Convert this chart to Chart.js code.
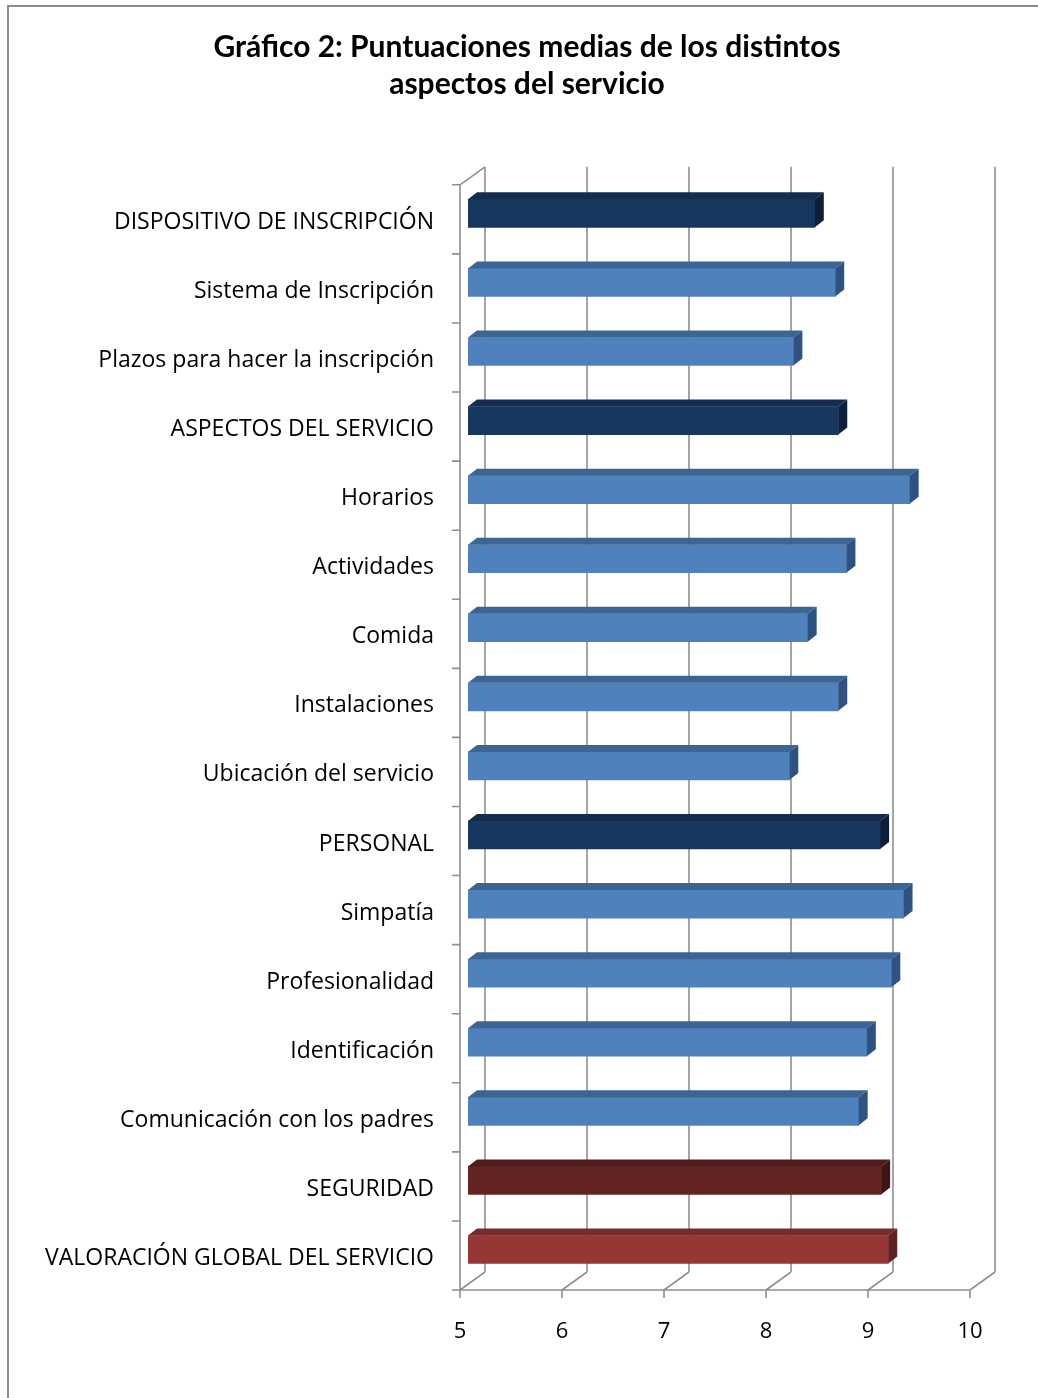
<!DOCTYPE html>
<html>
<head>
<meta charset="utf-8">
<script src="https://cdn.jsdelivr.net/npm/chart.js@4/dist/chart.umd.min.js"></script>
<style>
  html, body { margin: 0; padding: 0; background: #fff; }
  #wrap { width: 1038px; height: 1398px; }
</style>
</head>
<body>
<div id="wrap"><canvas id="grafico" width="1038" height="1398"></canvas></div>
<script>
// Datos
const categorias = [
  'DISPOSITIVO DE INSCRIPCIÓN',
  'Sistema de Inscripción',
  'Plazos para hacer la inscripción',
  'ASPECTOS DEL SERVICIO',
  'Horarios',
  'Actividades',
  'Comida',
  'Instalaciones',
  'Ubicación del servicio',
  'PERSONAL',
  'Simpatía',
  'Profesionalidad',
  'Identificación',
  'Comunicación con los padres',
  'SEGURIDAD',
  'VALORACIÓN GLOBAL DEL SERVICIO'
];
const puntuaciones = [8.40, 8.60, 8.19, 8.63, 9.33, 8.71, 8.33, 8.63, 8.15, 9.04, 9.27, 9.15, 8.91, 8.83, 9.05, 9.12];
const ticksEje = [5, 6, 7, 8, 9, 10];

// colores: cara frontal, cara superior, lateral
const paleta = {
  bloque: ['#17375E', '#122d4d', '#0d2038'],
  item:   ['#4F81BD', '#3d6594', '#2f5281'],
  seg:    ['#632523', '#4e1c1b', '#3c1514'],
  global: ['#953735', '#762c2a', '#5c2120']
};
const tipoBarra = ['bloque','item','item','bloque','item','item','item','item','item',
                   'bloque','item','item','item','item','seg','global'];

// desplazamientos de la perspectiva
const PROF = { dx: 25, dy: -18 };     // de plano frontal a pared del fondo
const FRENTE = { dx: -8, dy: 6 };     // plano de las barras -> plano frontal
const BARRA = { dx: 9, dy: -7 };      // profundidad de cada barra
const gris = '#8f8f8f';

const marco = {
  id: 'marco',
  beforeDraw(chart) {
    const c = chart.ctx;
    c.save();
    c.fillStyle = '#fff';
    c.fillRect(0, 0, chart.width, chart.height);
    c.strokeStyle = '#8c8c8c';
    c.lineWidth = 2;
    c.beginPath();
    c.moveTo(8, chart.height);
    c.lineTo(8, 6);
    c.lineTo(chart.width, 6);
    c.stroke();
    c.restore();
  },
  // el titulo va centrado algo a la derecha, como en el original
  afterLayout(chart) {
    const t = chart.titleBlock;
    if (t) { t.left += 76; }
  }
};

const paredes = {
  id: 'paredes',
  beforeDatasetsDraw(chart) {
    const c = chart.ctx, a = chart.chartArea, xs = chart.scales.x;
    const fTop = a.top + FRENTE.dy, fBot = a.bottom + FRENTE.dy;
    const bTop = fTop + PROF.dy, bBot = fBot + PROF.dy;
    c.save();
    c.strokeStyle = gris;
    c.lineWidth = 1.6;
    c.beginPath();
    ticksEje.forEach(v => {
      const fx = xs.getPixelForValue(v) + FRENTE.dx;
      const bx = fx + PROF.dx;
      c.moveTo(bx, bTop); c.lineTo(bx, bBot);
      c.moveTo(fx, fBot); c.lineTo(bx, bBot);
      c.moveTo(fx, fBot); c.lineTo(fx, fBot + 8);
    });
    const fx0 = xs.getPixelForValue(ticksEje[0]) + FRENTE.dx;
    const fx1 = xs.getPixelForValue(ticksEje[ticksEje.length - 1]) + FRENTE.dx;
    c.moveTo(fx0 - 8, fBot); c.lineTo(fx1, fBot);
    c.moveTo(fx0, fTop); c.lineTo(fx0, fBot + 8);
    c.moveTo(fx0, fTop); c.lineTo(fx0 + PROF.dx, bTop);
    const banda = (a.bottom - a.top) / categorias.length;
    for (let k = 0; k <= categorias.length; k++) {
      const y = fTop + k * banda;
      c.moveTo(fx0 - 8, y); c.lineTo(fx0, y);
    }
    c.stroke();
    c.restore();
  },
  afterDatasetsDraw(chart) {
    const c = chart.ctx;
    const meta = chart.getDatasetMeta(0);
    c.save();
    meta.data.forEach((bar, i) => {
      const p = bar.getProps(['x', 'y', 'base', 'height'], true);
      const top = p.y - p.height / 2, bot = p.y + p.height / 2;
      const col = paleta[tipoBarra[i]];
      // cara superior
      c.fillStyle = col[1];
      c.beginPath();
      c.moveTo(p.base, top);
      c.lineTo(p.x, top);
      c.lineTo(p.x + BARRA.dx, top + BARRA.dy);
      c.lineTo(p.base + BARRA.dx, top + BARRA.dy);
      c.closePath();
      c.fill();
      // cara lateral
      c.fillStyle = col[2];
      c.beginPath();
      c.moveTo(p.x, top);
      c.lineTo(p.x + BARRA.dx, top + BARRA.dy);
      c.lineTo(p.x + BARRA.dx, bot + BARRA.dy);
      c.lineTo(p.x, bot);
      c.closePath();
      c.fill();
    });
    c.restore();
  }
};

document.addEventListener('DOMContentLoaded', () => {
  const ctx = document.getElementById('grafico').getContext('2d');
  new Chart(ctx, {
    type: 'bar',
    data: {
      labels: categorias,
      datasets: [{
        data: puntuaciones,
        base: 5,
        backgroundColor: tipoBarra.map(t => paleta[t][0]),
        borderWidth: 0,
        barThickness: 28
      }]
    },
    options: {
      indexAxis: 'y',
      responsive: false,
      animation: false,
      layout: { padding: { top: 29, left: 0, right: 60, bottom: 0 } },
      plugins: {
        legend: { display: false },
        tooltip: { enabled: false },
        title: {
          display: true,
          text: ['Gráfico 2: Puntuaciones medias de los distintos', 'aspectos del servicio'],
          color: '#000',
          font: { family: 'Lato', size: 30, weight: 'bold', lineHeight: 1.23 },
          padding: { top: 0, bottom: 76 }
        }
      },
      scales: {
        x: {
          min: 5,
          max: 10,
          afterBuildTicks(scale) { scale.ticks = ticksEje.map(v => ({ value: v })); },
          afterFit(scale) { scale.height = 114; },
          grid: { display: false },
          border: { display: false },
          ticks: {
            color: '#000',
            font: { family: 'Open Sans', size: 22 },
            padding: 27,
            labelOffset: -8,
            maxRotation: 0
          }
        },
        y: {
          afterFit(scale) { scale.width = 468; },
          grid: { display: false },
          border: { display: false },
          ticks: {
            color: '#000',
            font: { family: 'Open Sans', size: 23 },
            padding: 26,
            labelOffset: 9,
            autoSkip: false
          }
        }
      }
    },
    plugins: [marco, paredes]
  });
});
</script>
</body>
</html>
